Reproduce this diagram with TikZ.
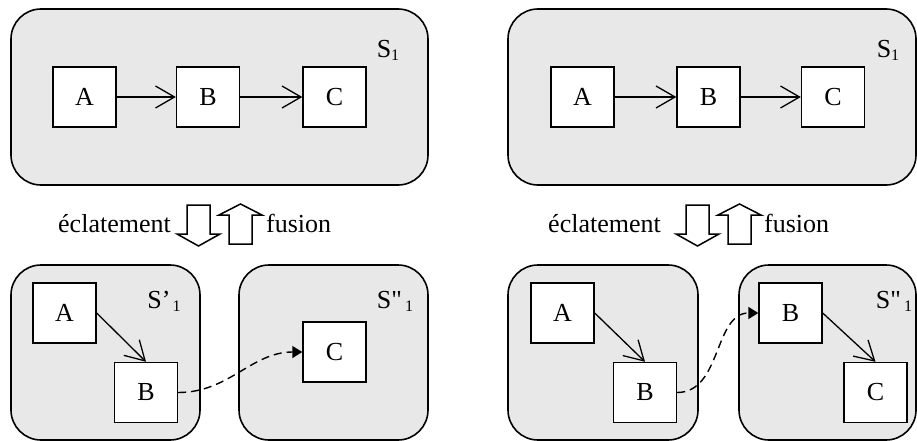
\documentclass[tikz,border=0pt]{standalone}
\usepackage{fontspec}
\setmainfont{Liberation Serif}
\newfontfamily\rawserif{Liberation Serif}
\usetikzlibrary{arrows.meta}
\definecolor{panelgray}{HTML}{E8E8E8}
\newcommand{\subone}{\raisebox{-3pt}{\fontsize{16}{16}\selectfont 1}}
\tikzset{
  panel/.style={draw=black, line width=1.6pt, fill=panelgray, rounded corners=30pt},
  elem/.style={draw=black, line width=1.4pt, fill=white, minimum width=63pt, minimum height=60pt, inner sep=0pt, font=\fontsize{26}{26}\selectfont},
  lbl/.style={inner sep=0pt, font=\fontsize{26}{26}\selectfont},
  flow/.style={line width=1.3pt, -{Straight Barb[length=19pt,width=22pt,line width=1.3pt]}},
  link/.style={line width=1.4pt, dash pattern=on 8pt off 5pt, -{Triangle[length=10pt,width=12pt]}},
  bigarrow/.style={draw=black, line width=1.5pt, fill=white, line join=miter},
}
\begin{document}
\begin{tikzpicture}[x=1pt,y=-1pt]
\useasboundingbox (0,0) rectangle (917,441);
% panels
\draw[panel] (11,9) rectangle (428,185);
\draw[panel] (508,9) rectangle (916,185);
\draw[panel] (11,265) rectangle (200,440);
\draw[panel] (239,265) rectangle (428,440);
\draw[panel] (508,265) rectangle (698,440);
\draw[panel] (739,265) rectangle (916,440);
% panel labels
\node[lbl] (s1l) at (388,50) {S\subone};
\node[lbl] (s1r) at (888,50) {S\subone};
\node[lbl] (sp1) at (164,301) {S’\kern2pt\subone};
\node[lbl] (spp1l) at (395,301) {S{\rawserif"}\kern3pt\subone};
\node[lbl] (spp1r) at (894,301) {S{\rawserif"}\kern3pt\subone};
% top left
\node[elem] (tlA) at (84.5,97) {A};
\node[elem] (tlB) at (208,97) {B};
\node[elem] (tlC) at (334.5,97) {C};
\draw[flow] (tlA) -- (tlB);
\draw[flow] (tlB) -- (tlC);
% top right
\node[elem] (trA) at (582.5,97) {A};
\node[elem] (trB) at (708.5,97) {B};
\node[elem] (trC) at (833,97) {C};
\draw[flow] (trA) -- (trB);
\draw[flow] (trB) -- (trC);
% bottom left
\node[elem] (blA) at (64.5,313) {A};
\node[elem] (blB) at (146,392.5) {B};
\node[elem] (blC) at (334.5,352) {C};
\draw[flow] (blA.east) -- (blB.north);
\draw[link] (blB.east) to[out=0,in=180] (blC.west);
% bottom right
\node[elem] (brA) at (562.5,313) {A};
\node[elem] (brB) at (645,392.5) {B};
\node[elem] (brB2) at (790.5,313) {B};
\node[elem] (brC) at (875.5,392.5) {C};
\draw[flow] (brA.east) -- (brB.north);
\draw[flow] (brB2.east) -- (brC.north);
\draw[link] (brB.east) to[out=0,in=180] (brB2.west);
% middle texts
\node[lbl, anchor=base west] (ecl) at (58,232) {éclatement};
\node[lbl, anchor=base west] (fus) at (266,232) {fusion};
\node[lbl, anchor=base west] (ecr) at (548,232) {éclatement};
\node[lbl, anchor=base west] (fur) at (764,232) {fusion};
% hollow arrows
\foreach \dx in {0,499}{
  \begin{scope}[xshift=\dx]
  \draw[bigarrow] (187,205) -- (210,205) -- (210,234) -- (220,234) -- (198.5,246) -- (177,234) -- (187,234) -- cycle;
  \draw[bigarrow] (229,244) -- (252,244) -- (252,215) -- (262,215) -- (240.5,204) -- (219,215) -- (229,215) -- cycle;
  \end{scope}
}
\end{tikzpicture}
\end{document}
